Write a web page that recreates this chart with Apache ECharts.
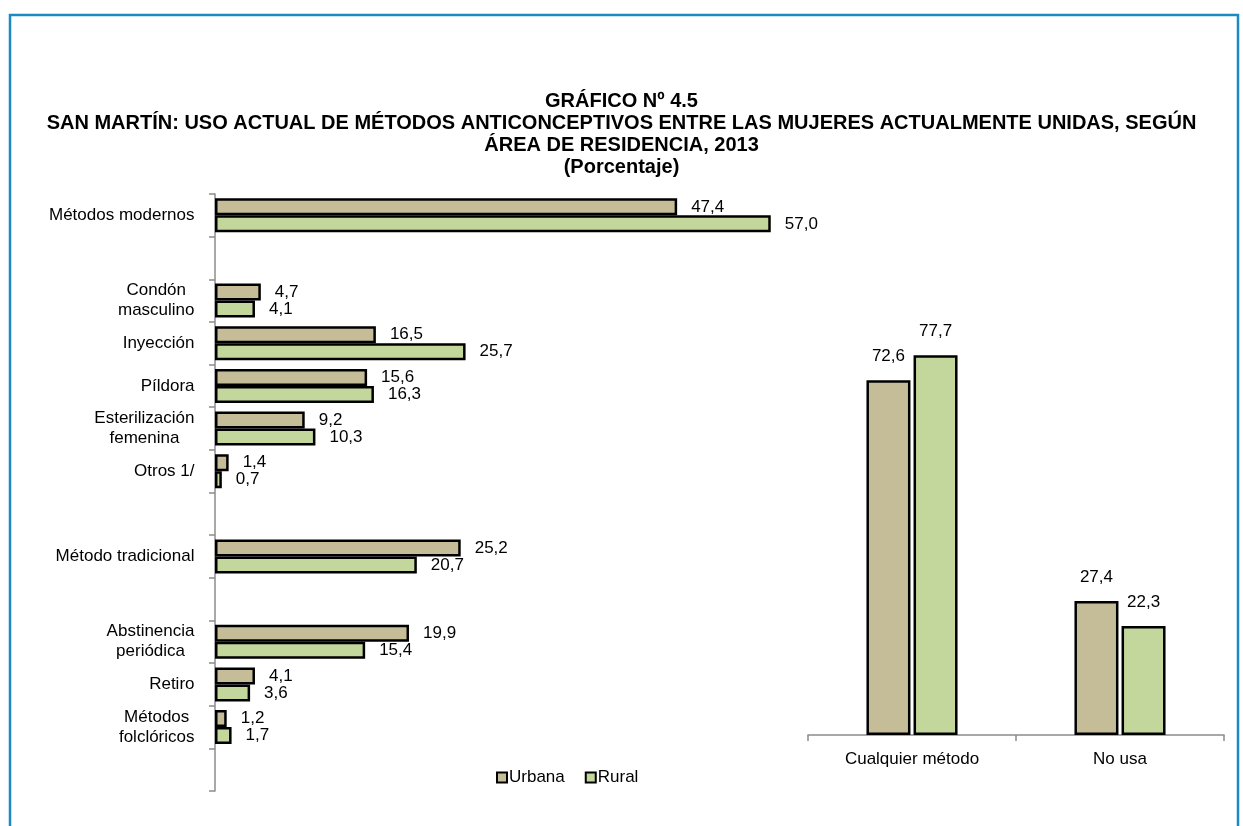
<!DOCTYPE html>
<html>
<head>
<meta charset="utf-8">
<script src="https://cdn.jsdelivr.net/npm/echarts@6/dist/echarts.min.js"></script>
<style>
html,body{margin:0;padding:0;background:#fff;}
#chart{width:1243px;height:826px;}
</style>
</head>
<body>
<div id="chart"></div>
<script>
// ---- Data ----
const titleLines = [
  'GRÁFICO Nº 4.5',
  'SAN MARTÍN: USO ACTUAL DE MÉTODOS ANTICONCEPTIVOS ENTRE LAS MUJERES ACTUALMENTE UNIDAS, SEGÚN',
  'ÁREA DE RESIDENCIA, 2013',
  '(Porcentaje)'
];
const seriesNames = ['Urbana', 'Rural'];
const methodCategories = [
  'Métodos modernos', '', 'Condón\nmasculino', 'Inyección', 'Píldora',
  'Esterilización\nfemenina', 'Otros 1/', '', 'Método tradicional', '',
  'Abstinencia\nperiódica', 'Retiro', 'Métodos\nfolclóricos', ''
];
const methodUrbana = [47.4, null, 4.7, 16.5, 15.6, 9.2, 1.4, null, 25.2, null, 19.9, 4.1, 1.2, null];
const methodRural  = [57.0, null, 4.1, 25.7, 16.3, 10.3, 0.7, null, 20.7, null, 15.4, 3.6, 1.7, null];
const useCategories = ['Cualquier método', 'No usa'];
const useUrbana = [72.6, 27.4];
const useRural  = [77.7, 22.3];

// ---- Styling ----
const FONT = '"Liberation Sans", Arial, sans-serif';
const LABEL_SIZE = 17;
const colUrbana = '#c4bd97';
const colRural = '#c3d69b';
const axisGray = '#8c8c8c';

const fmt = v => (v == null ? '' : v.toFixed(1).replace('.', ','));

// rich text for centered multi-line category labels
const mctx = document.createElement('canvas').getContext('2d');
mctx.font = LABEL_SIZE + 'px ' + FONT;
const rich = {};
methodCategories.forEach((c, i) => {
  const lines = c.split('\n');
  const w = Math.max(...lines.map(l => mctx.measureText(l).width)) + 1;
  rich['c' + i] = { width: w, align: 'center', fontSize: LABEL_SIZE, fontFamily: FONT, color: '#000', lineHeight: 20 };
});

const chart = echarts.init(document.getElementById('chart'), null, { renderer: 'canvas' });

const barItem = c => ({ color: c, borderColor: '#000', borderWidth: 2.5 });

chart.setOption({
  backgroundColor: '#fff',
  animation: false,
  title: {
    text: titleLines.join('\n'),
    left: 'center',
    top: 85,
    textStyle: { fontFamily: FONT, fontWeight: 'bold', fontSize: 20, lineHeight: 22, color: '#000', align: 'center' }
  },
  graphic: [{
    type: 'rect',
    shape: { x: 10, y: 15, width: 1228, height: 900 },
    style: { fill: null, stroke: '#1b8ac2', lineWidth: 2.5 },
    silent: true
  }],
  legend: {
    data: seriesNames,
    left: 491,
    top: 764,
    itemWidth: 10,
    itemHeight: 10,
    itemGap: 20,
    icon: 'rect',
    textStyle: { fontFamily: FONT, fontSize: LABEL_SIZE, color: '#000', padding: [0, 0, 0, -3] }
  },
  grid: [
    { left: 215, top: 194, width: 585, height: 597, containLabel: false },
    { left: 808, top: 344, width: 416, height: 391, containLabel: false }
  ],
  xAxis: [
    { gridIndex: 0, type: 'value', min: 0, max: 60, show: false },
    {
      gridIndex: 1, type: 'category', data: useCategories,
      axisLine: { show: true, lineStyle: { color: axisGray, width: 1.5 } },
      axisTick: { show: true, length: 6, alignWithLabel: false, lineStyle: { color: axisGray, width: 1.5 } },
      axisLabel: { margin: 16, fontFamily: FONT, fontSize: LABEL_SIZE, color: '#000' }
    }
  ],
  yAxis: [
    {
      gridIndex: 0, type: 'category', data: methodCategories, inverse: true,
      axisLine: { show: true, lineStyle: { color: axisGray, width: 1.5 } },
      axisTick: { show: true, length: 6, interval: 0, alignWithLabel: false, lineStyle: { color: axisGray, width: 1.5 } },
      axisLabel: {
        margin: 20, interval: 0,
        formatter: (v, i) => v ? v.split('\n').map(l => '{c' + i + '|' + l + '}').join('\n') : '',
        rich: rich
      }
    },
    { gridIndex: 1, type: 'value', min: 0, max: 80, show: false }
  ],
  series: [
    {
      name: 'Urbana', type: 'bar', xAxisIndex: 0, yAxisIndex: 0,
      data: methodUrbana, barWidth: 17, barGap: '0%',
      itemStyle: barItem(colUrbana),
      label: { show: true, position: 'right', distance: 14, formatter: p => fmt(p.value), fontFamily: FONT, fontSize: LABEL_SIZE, color: '#000' }
    },
    {
      name: 'Rural', type: 'bar', xAxisIndex: 0, yAxisIndex: 0,
      data: methodRural, barWidth: 17, barGap: '0%',
      itemStyle: barItem(colRural),
      label: { show: true, position: 'right', distance: 14, formatter: p => fmt(p.value), fontFamily: FONT, fontSize: LABEL_SIZE, color: '#000' }
    },
    {
      name: 'Urbana', type: 'bar', xAxisIndex: 1, yAxisIndex: 1,
      data: useUrbana, barWidth: 44, barGap: '7%',
      itemStyle: barItem(colUrbana),
      label: { show: true, position: 'top', distance: 15, formatter: p => fmt(p.value), fontFamily: FONT, fontSize: LABEL_SIZE, color: '#000' }
    },
    {
      name: 'Rural', type: 'bar', xAxisIndex: 1, yAxisIndex: 1,
      data: useRural, barWidth: 44, barGap: '7%',
      itemStyle: barItem(colRural),
      label: { show: true, position: 'top', distance: 15, formatter: p => fmt(p.value), fontFamily: FONT, fontSize: LABEL_SIZE, color: '#000' }
    }
  ]
});
</script>
</body>
</html>
